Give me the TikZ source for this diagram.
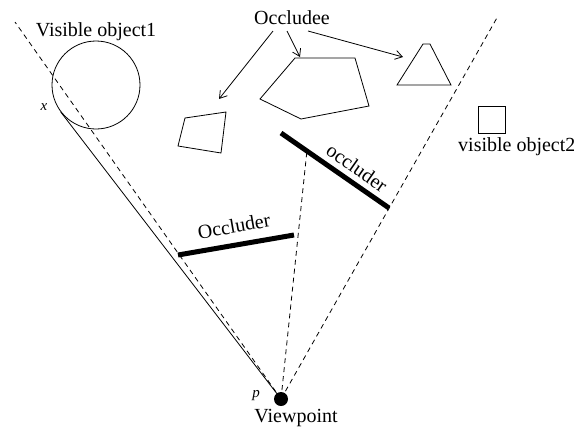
\documentclass[tikz,border=0pt]{standalone}
\usepackage{fontspec}
\setmainfont{Liberation Serif}
\usetikzlibrary{calc,arrows.meta}
\begin{document}
\begin{tikzpicture}[x=1pt,y=-1pt,
  thinline/.style={line width=0.8pt},
  ray/.style={line width=0.8pt,dash pattern=on 5pt off 4pt},
  blocker/.style={line width=5pt},
  lbl/.style={inner sep=0pt,font=\fontsize{20}{24}\selectfont},
  small/.style={inner sep=0pt,font=\fontsize{15}{17}\selectfont\itshape},
  pointer/.style={line width=0.8pt,-{Straight Barb[length=7pt,width=9pt]}}]
\useasboundingbox (0,0) rectangle (574,432);

% viewpoint and the visible circle
\node[circle,fill=black,minimum size=14pt,inner sep=0pt] (vp) at (281,399) {};
\node[circle,draw,thinline,minimum size=88pt,inner sep=0pt] (obj1) at (96,85) {};
\coordinate (tp) at (tangent cs:node=obj1,point={(vp)},solution=2);

% occluders
\coordinate (oa1) at (178,255);
\coordinate (oa2) at (294,235);
\coordinate (ob1) at (281,133);
\coordinate (ob2) at (389,208);
\draw[blocker] (oa1) -- (oa2);
\draw[blocker] (ob1) -- (ob2);

% sight rays
\coordinate (rl) at (15,22);
\coordinate (rr) at (498,16);
\coordinate (rm) at ($(ob1)!0.24!(ob2)$);
\draw[ray] (vp.center) -- (rl);
\draw[ray] (vp.center) -- (rr);
\draw[ray] (vp.center) -- (rm);
\draw[thinline] (tp) -- (vp.center);

% occluded objects
\coordinate (q1) at (185,118);
\coordinate (q2) at (226,112);
\coordinate (q3) at (221,153);
\coordinate (q4) at (178,146);
\draw[thinline] (q1) -- (q2) -- (q3) -- (q4) -- cycle;
\coordinate (g1) at (295,58);
\coordinate (g2) at (355,58);
\coordinate (g3) at (369,106);
\coordinate (g4) at (301,119);
\coordinate (g5) at (260,99);
\draw[thinline] (g1) -- (g2) -- (g3) -- (g4) -- (g5) -- cycle;
\coordinate (t1) at (423,44);
\coordinate (t2) at (430,44);
\coordinate (t3) at (451,85);
\coordinate (t4) at (397,85);
\draw[thinline] (t1) -- (t2) -- (t3) -- (t4) -- cycle;

% second visible object
\node[draw,thinline,minimum size=27pt,inner sep=0pt] (obj2) at (492,119.5) {};

% labels
\node[lbl] (lobj1) at (96,32) {Visible object1};
\node[lbl,anchor=west] (lobj2) at (458,147) {visible object2};
\node[lbl] (lee) at (292,18) {Occludee};
\node[lbl,rotate=10] (locc1) at (234,226) {Occluder};
\node[lbl,rotate=-35] (locc2) at (357,168) {occluder};
\node[lbl] (lvp) at (296,418) {Viewpoint};
\node[small] (lx) at (44,107) {x};
\node[small] (lp) at (256,396) {p};

% pointers from the occludee label
\coordinate (a1) at (273,31);
\coordinate (a2) at (287,31);
\coordinate (a3) at (308,31);
\coordinate (e1) at (219,99);
\coordinate (e2) at (300,57);
\coordinate (e3) at (403,57);
\draw[pointer] (a1) -- (e1);
\draw[pointer] (a2) -- (e2);
\draw[pointer] (a3) -- (e3);
\end{tikzpicture}
\end{document}
